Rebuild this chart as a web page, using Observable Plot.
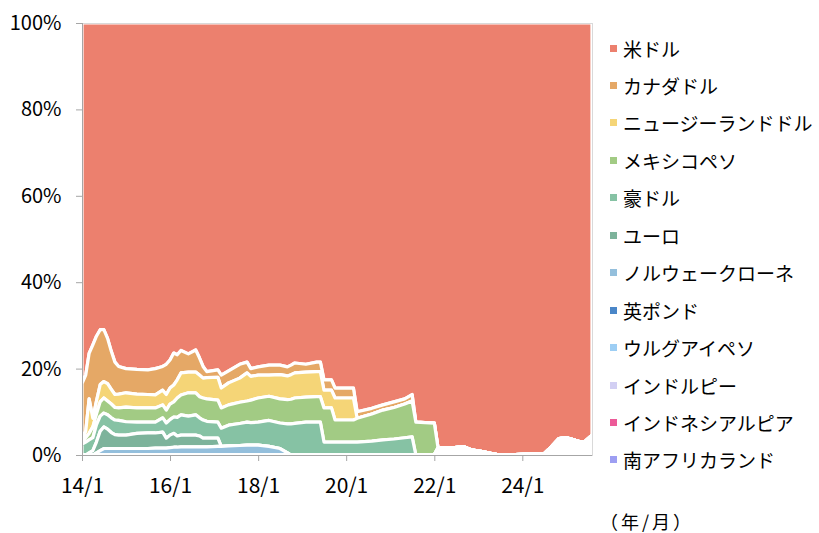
<!DOCTYPE html>
<html><head><meta charset="utf-8">
<script src="https://cdn.jsdelivr.net/npm/d3@7"></script>
<script src="https://cdn.jsdelivr.net/npm/@observablehq/plot@0.6"></script>
<style>
body{margin:0;background:#fff;}
#wrap{position:relative;width:819px;height:533px;font-family:"Noto Sans CJK JP",sans-serif;color:#000;}
.leg{position:absolute;left:610px;height:24px;display:flex;align-items:center;font-size:19px;white-space:nowrap;}
.leg .sw{display:inline-block;width:7px;height:7px;margin-right:6px;}
#unit{position:absolute;left:600px;top:509px;line-height:24px;font-size:18px;letter-spacing:3px;white-space:nowrap;}
</style></head><body><div id="wrap"></div>
<script>
// month points (yyyy-mm)
const dates = [
 "2014-01","2014-02","2014-03","2014-04","2014-05","2014-06","2014-07","2014-08","2014-09","2014-10","2014-11",
 "2015-01","2015-04","2015-07","2015-09","2015-11","2015-12","2016-01","2016-02","2016-03","2016-04",
 "2016-06","2016-08","2016-09","2016-10","2016-11","2017-02","2017-03","2017-05","2017-08","2017-10",
 "2017-11","2018-01","2018-04","2018-07","2018-09","2018-10","2018-11","2019-02","2019-05","2019-06",
 "2019-07","2019-09","2019-10","2020-03","2020-04","2020-08","2020-11","2021-02","2021-05","2021-07",
 "2021-08","2022-01","2022-02","2022-05","2022-09","2022-11","2023-02","2023-05","2023-07","2024-07",
 "2024-09","2024-11","2025-01","2025-03","2025-05","2025-06","2025-08"
];
// shares (%)
const usd = [
 83.5,81.5,76.5,74.5,72.5,71,71,73,76,78.5,79.5,
 80,80.2,80.3,80,79.5,79,78,76.4,76.8,75.8,
 76.6,75.7,77.5,79.5,80.7,80.3,81.5,80.5,79,78.5,
 80,79.6,79.2,79.2,79.6,79.2,78.7,79,78.5,78.5,
 82.6,82.6,84.5,84.5,90,89.2,88.4,87.7,87,86,
 92.4,92.6,98.4,98.4,98.1,98.8,99.2,99.7,100,99.7,
 98,96.2,96,96.5,97,97,95.4
];
const cad = [
 13,13,10.5,17,15,12.7,12,10.5,8.8,7.5,6.4,
 5.6,5.7,5.7,6.1,5.5,7,6.5,7.4,5.8,5.2,
 4.2,5.1,4,2.7,1.4,1.7,3,2.8,3.2,2.5,
 1.8,1.9,2.3,2.2,2.1,2.2,2.3,1.8,2.2,2.2,
 2.4,2.4,2.3,2.3,1.5,1.3,1.2,1.3,1.2,1.5,
 0,0,0,0,0,0,0,0,0,0,
 0,0,0,0,0,0,0
];
const nzd = [
 0.5,1.5,8,2,3,4,3.8,4,3.4,3,3.2,
 3.3,3.2,3.1,3,3.4,3.6,3.7,3.9,4.2,5.1,
 4.8,4.8,5,4.6,4.9,5.3,4.6,5.1,5.6,6.5,
 5.5,5.3,4.9,5.6,5.5,5.7,5.8,5.8,5.8,5.8,
 4.1,4.1,5.1,5.1,0,0,0,0,0,0,
 0,0,0,0,0,0,0,0,0,0,
 0,0,0,0,0,0,0
];
const mxn = [
 0.5,1,1.5,2.5,2.5,3.3,3.5,3.2,3.2,2.9,2.9,
 3.4,3.3,3.3,3.3,3,3,3.6,3.5,4.5,4.6,
 5.4,5.1,4.9,5.1,5.2,5.1,4.7,4.7,4.9,4.9,
 5.2,5.6,5.6,5.6,5.6,5.7,5.9,5.8,5.9,5.9,
 7.9,7.9,5.1,5.1,5.5,6.3,6.9,7.3,7.8,8.3,
 7.6,7.4,0,0,0,0,0,0,0,0,
 0,0,0,0,0,0,0
];
const aud = [
 2.5,3,3,3,4,3.5,3.2,3.3,3.4,3.4,3.4,
 3.1,2.6,2.5,2.5,3.3,3.5,3.6,3.8,4.3,4.7,
 4.4,4.7,4.2,4.2,3.9,3.7,4.2,4.8,5.1,5.3,
 5.2,5.3,6,5.9,6.7,7.2,7.3,7.6,7.6,7.6,
 3,3,3,3,3,3.2,3.5,3.7,4,4.2,
 0,0,0,0,0,0,0,0,0,0,
 0,0,0,0,0,0,0
];
const eur = [
 0,0,0.5,1,2.5,4.5,5,4.5,3.7,3.2,3.1,
 3.1,3.5,3.6,3.5,3.7,2.3,2.9,3.2,2.6,2.7,
 2.7,2.7,2.5,2,2,1.9,0,0,0,0,
 0,0,0,0,0,0,0,0,0,0,
 0,0,0,0,0,0,0,0,0,0,
 0,0,0,0,0,0,0,0,0,0,
 0,0,0,0,0,0,0
];
const nok = [
 0,0,0,0,0.5,1,1.5,1.5,1.5,1.5,1.5,
 1.5,1.5,1.5,1.6,1.6,1.6,1.7,1.8,1.8,1.9,
 1.9,1.9,1.9,1.9,1.9,2,2,2.1,2.2,2.3,
 2.3,2.3,2,1.5,0.5,0,0,0,0,0,
 0,0,0,0,0,0,0,0,0,0,
 0,0,0,0,0,0,0,0,0,0,
 0,0,0,0,0,0,0
];
const gbp = dates.map(() => 0);
const uyu = dates.map(() => 0);
const inr = dates.map(() => 0);
const idr = dates.map(() => 0);
const zar = dates.map(() => 0);
const other = [
 0,0,0,0,0,0,0,0,0,0,0,
 0,0,0,0,0,0,0,0,0,0,
 0,0,0,0,0,0,0,0,0,0,
 0,0,0,0,0,0,0,0,0,0,
 0,0,0,0,0,0,0,0,0,0,
 0,0,1.6,1.6,1.9,1.2,0.8,0.3,0,0.3,
 2,3.8,4,3.5,3,3,4.6
];

// legend order (top of stack first)
const names = ["米ドル","カナダドル","ニュージーランドドル","メキシコペソ","豪ドル","ユーロ","ノルウェークローネ","英ポンド","ウルグアイペソ","インドルピー","インドネシアルピア","南アフリカランド"];
const colors = ["#ec806e","#e5a866","#f5d577","#a2cb84","#86c2a4","#7db39b","#94bfdc","#4a86c8","#9dcef4","#d2cff3","#ec5a98","#9d9ef2"];
const values = [usd,cad,nzd,mxn,aud,eur,nok,gbp,uyu,inr,idr,zar];
const otherName = "その他";
const otherColor = "#ffffff";

const yTicks = [0,0.2,0.4,0.6,0.8,1];
const yTickLabels = ["0%","20%","40%","60%","80%","100%"];
const xTickMonths = ["2014-01","2016-01","2018-01","2020-01","2022-01","2024-01"];
const xTickLabels = ["14/1","16/1","18/1","20/1","22/1","24/1"];
const unitLabel = "（年/月）";

const parse = d3.utcParse("%Y-%m");
const xTicks = xTickMonths.map(parse);
const colorOf = new Map(names.map((n,i)=>[n,colors[i]]));
colorOf.set(otherName, otherColor);

const rows = [];
names.forEach((n,k)=>{ values[k].forEach((v,i)=>rows.push({date:parse(dates[i]), currency:n, value:v})); });
other.forEach((v,i)=>rows.push({date:parse(dates[i]), currency:otherName, value:v}));
const stackOrder = [otherName, ...names.slice().reverse()];

const chart = Plot.plot({
  width: 819, height: 533,
  marginLeft: 82, marginRight: 227, marginTop: 23, marginBottom: 78,
  style: {fontFamily: "'Noto Sans CJK JP', sans-serif", background: "transparent", overflow: "visible"},
  x: {type: "utc", domain: [parse(dates[0]), parse(dates[dates.length-1])]},
  y: {domain: [0,1]},
  color: {type: "identity"},
  marks: [
    Plot.areaY(rows, {x:"date", y:"value", z:"currency", fill: d=>colorOf.get(d.currency), stroke:"white", strokeWidth:3.2, strokeLinejoin:"round", order: stackOrder, offset:"normalize"}),
    Plot.frame({stroke:"#d9d9d9"}),
    Plot.ruleX([parse(dates[0])], {stroke:"#a6a6a6"}),
    Plot.ruleY([0], {stroke:"#a6a6a6"}),
    Plot.axisY({ticks: yTicks, tickFormat: d => yTickLabels[yTicks.findIndex(t=>Math.abs(t-d)<1e-9)], tickSize: 6, tickPadding: 15, stroke:"#a6a6a6", fill:"#000", fontSize: 20, label: null}),
    Plot.axisX({ticks: xTicks, tickFormat: d => xTickLabels[xTicks.findIndex(t=>+t===+d)], tickSize: 6, tickPadding: 17, stroke:"#a6a6a6", fill:"#000", fontSize: 21, label: null})
  ]
});
const wrap = document.getElementById("wrap");
wrap.appendChild(chart);
chart.style.position = "absolute"; chart.style.left = "0"; chart.style.top = "0";
names.forEach((n,i)=>{
  const div = document.createElement("div");
  div.className = "leg";
  div.style.top = (48 + i*37.45 - 12) + "px";
  const sw = document.createElement("span"); sw.className = "sw"; sw.style.background = colors[i];
  div.appendChild(sw); div.appendChild(document.createTextNode(n));
  wrap.appendChild(div);
});
const u = document.createElement("div"); u.id = "unit"; u.textContent = unitLabel; wrap.appendChild(u);
</script></body></html>
